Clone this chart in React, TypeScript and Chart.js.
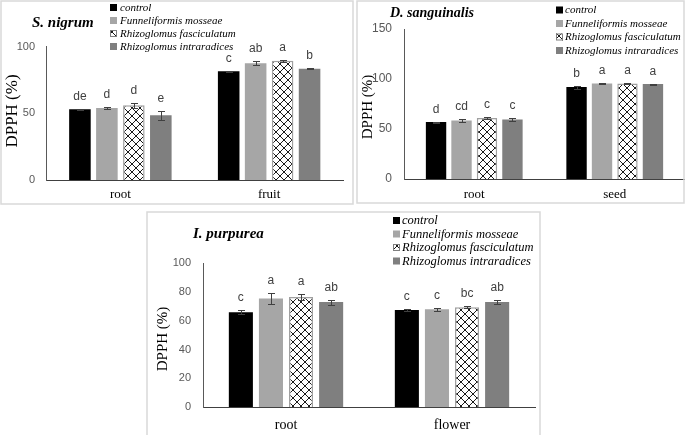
import React, { useEffect, useRef } from 'react';
import { Chart, registerables } from 'chart.js';

Chart.register(...registerables);

// ---------- data ----------
const SERIES = ['control', 'Funneliformis mosseae', 'Rhizoglomus fasciculatum', 'Rhizoglomus intraradices'];

// S. nigrum
const SN_CATEGORIES = ['root', 'fruit'];
const SN_CONTROL = [53, 81.5];
const SN_FUNNELIFORMIS = [54, 87.5];
const SN_FASCICULATUM = [56, 89.5];
const SN_INTRARADICES = [48.5, 83.5];
const SN_ERRORS = [[0.5, 0.5], [0.5, 1.5], [2, 0.7], [3.5, 0.5]];
const SN_LETTERS = [['de', 'c'], ['d', 'ab'], ['d', 'a'], ['e', 'b']];
const SN_Y_TICKS = [0, 50, 100];

// D. sanguinalis
const DS_CATEGORIES = ['root', 'seed'];
const DS_CONTROL = [57, 92];
const DS_FUNNELIFORMIS = [58.5, 95.5];
const DS_FASCICULATUM = [61, 95.5];
const DS_INTRARADICES = [59.5, 95];
const DS_ERRORS = [[0.5, 1.5], [1.5, 0.5], [0.7, 0.5], [1.2, 0.5]];
const DS_LETTERS = [['d', 'b'], ['cd', 'a'], ['c', 'a'], ['c', 'a']];
const DS_Y_TICKS = [0, 50, 100, 150];

// I. purpurea
const IP_CATEGORIES = ['root', 'flower'];
const IP_CONTROL = [66, 67.5];
const IP_FUNNELIFORMIS = [75.5, 68];
const IP_FASCICULATUM = [76.5, 69.5];
const IP_INTRARADICES = [73, 73];
const IP_ERRORS = [[1.2, 0.7], [3.5, 1.0], [1.8, 0.7], [1.8, 1.2]];
const IP_LETTERS = [['c', 'c'], ['a', 'c'], ['a', 'bc'], ['ab', 'ab']];
const IP_Y_TICKS = [0, 20, 40, 60, 80, 100];

// ---------- layout / style ----------
const PANELS = [
  {
    key: 'sn', title: 'S. nigrum', categories: SN_CATEGORIES,
    values: [SN_CONTROL, SN_FUNNELIFORMIS, SN_FASCICULATUM, SN_INTRARADICES],
    errors: SN_ERRORS, letters: SN_LETTERS, yTicks: SN_Y_TICKS,
    box: { left: 0, top: 0, width: 355, height: 207 },
    area: { left: 46, top: 46.7, right: 343.5, bottom: 180 },
    border: { x1: 1, y1: 1, x2: 353, y2: 204 },
    titlePos: { x: 32, y: 23, size: 15 },
    yTitle: { x: 13, y: 111, size: 17 },
    legend: { x: 110, tx: 120, y: 7.5, dy: 13, size: 11 },
    yFont: 11, yPad: 11, xFont: 13, xPad: 7,
  },
  {
    key: 'ds', title: 'D. sanguinalis', categories: DS_CATEGORIES,
    values: [DS_CONTROL, DS_FUNNELIFORMIS, DS_FASCICULATUM, DS_INTRARADICES],
    errors: DS_ERRORS, letters: DS_LETTERS, yTicks: DS_Y_TICKS,
    box: { left: 355, top: 0, width: 330, height: 207 },
    area: { left: 404, top: 29, right: 685, bottom: 179 },
    border: { x1: 357, y1: 1, x2: 684, y2: 203 },
    titlePos: { x: 390, y: 13, size: 14 },
    yTitle: { x: 368, y: 107, size: 15 },
    legend: { x: 556, tx: 565, y: 10, dy: 13.5, size: 11 },
    yFont: 12, yPad: 12, xFont: 13, xPad: 8,
  },
  {
    key: 'ip', title: 'I. purpurea', categories: IP_CATEGORIES,
    values: [IP_CONTROL, IP_FUNNELIFORMIS, IP_FASCICULATUM, IP_INTRARADICES],
    errors: IP_ERRORS, letters: IP_LETTERS, yTicks: IP_Y_TICKS,
    box: { left: 145, top: 210, width: 400, height: 225 },
    area: { left: 203, top: 263.3, right: 535, bottom: 407 },
    border: { x1: 147, y1: 212, x2: 540, y2: 445 },
    titlePos: { x: 193, y: 234, size: 15 },
    yTitle: { x: 163, y: 339, size: 15 },
    legend: { x: 393, tx: 402, y: 220.5, dy: 13.5, size: 12.5 },
    yFont: 11, yPad: 12, xFont: 14, xPad: 9.5,
  },
];

const SERIF = '"Liberation Serif", "Times New Roman", serif';
const SANS = '"Liberation Sans", Arial, sans-serif';

function makePattern(ctx: CanvasRenderingContext2D): CanvasPattern | string {
  const c = document.createElement('canvas');
  c.width = 8; c.height = 8;
  const g = c.getContext('2d');
  if (!g) return '#ffffff';
  g.fillStyle = '#ffffff';
  g.fillRect(0, 0, 8, 8);
  g.strokeStyle = '#1a1a1a';
  g.lineWidth = 1;
  g.beginPath();
  g.moveTo(-1, -1); g.lineTo(9, 9);
  g.moveTo(9, -1); g.lineTo(-1, 9);
  g.stroke();
  return ctx.createPattern(c, 'repeat') || '#ffffff';
}

const decorPlugin = {
  id: 'decor',
  afterDatasetsDraw(chart: any) {
    const spec = chart.options.plugins.decor;
    if (!spec) return;
    const ctx = chart.ctx as CanvasRenderingContext2D;
    const y = chart.scales.y;
    ctx.save();
    chart.data.datasets.forEach((ds: any, di: number) => {
      const meta = chart.getDatasetMeta(di);
      meta.data.forEach((bar: any, ci: number) => {
        const v = ds.data[ci];
        const e = spec.errors[di][ci];
        const yT = Math.round(y.getPixelForValue(v + e)) + 0.5;
        const yB = Math.round(y.getPixelForValue(v - e)) + 0.5;
        const x = Math.round(bar.x) + 0.5;
        ctx.strokeStyle = '#404040';
        ctx.lineWidth = 1;
        ctx.beginPath();
        ctx.moveTo(x, yT); ctx.lineTo(x, yB);
        ctx.moveTo(x - 3.5, yT); ctx.lineTo(x + 3.5, yT);
        ctx.moveTo(x - 3.5, yB); ctx.lineTo(x + 3.5, yB);
        ctx.stroke();
        ctx.fillStyle = '#404040';
        ctx.font = `12px ${SANS}`;
        ctx.textAlign = 'center';
        ctx.textBaseline = 'middle';
        ctx.fillText(spec.letters[di][ci], bar.x, yT - 13);
      });
    });
    ctx.restore();
  },
  afterDraw(chart: any) {
    const spec = chart.options.plugins.decor;
    if (!spec) return;
    const ctx = chart.ctx as CanvasRenderingContext2D;
    const ox = spec.box.left;
    const oy = spec.box.top;
    ctx.save();
    // panel frame
    ctx.strokeStyle = '#d9d9d9';
    ctx.lineWidth = 1.5;
    const b = spec.border;
    ctx.strokeRect(b.x1 - ox, b.y1 - oy, b.x2 - b.x1, b.y2 - b.y1);
    // title
    ctx.fillStyle = '#000';
    ctx.font = `italic bold ${spec.titlePos.size}px ${SERIF}`;
    ctx.textAlign = 'left';
    ctx.textBaseline = 'middle';
    ctx.fillText(spec.title, spec.titlePos.x - ox, spec.titlePos.y - oy);
    // y title
    ctx.save();
    ctx.translate(spec.yTitle.x - ox, spec.yTitle.y - oy);
    ctx.rotate(-Math.PI / 2);
    ctx.font = `${spec.yTitle.size}px ${SERIF}`;
    ctx.textAlign = 'center';
    ctx.textBaseline = 'middle';
    ctx.fillText('DPPH (%)', 0, 0);
    ctx.restore();
    // legend
    const lg = spec.legend;
    const pattern = chart.data.datasets[2].backgroundColor;
    SERIES.forEach((name, i) => {
      const cy = lg.y + i * lg.dy - oy;
      const mx = lg.x - ox;
      if (i === 2) {
        ctx.fillStyle = pattern;
        ctx.fillRect(mx, cy - 3.5, 7, 7);
        ctx.strokeStyle = '#7f7f7f';
        ctx.lineWidth = 1;
        ctx.strokeRect(mx + 0.5, cy - 3, 6, 6);
      } else {
        ctx.fillStyle = chart.data.datasets[i].backgroundColor;
        ctx.fillRect(mx, cy - 3.5, 7, 7);
      }
      ctx.fillStyle = '#000';
      ctx.font = `italic ${lg.size}px ${SERIF}`;
      ctx.textAlign = 'left';
      ctx.textBaseline = 'middle';
      ctx.fillText(name, lg.tx - ox, cy + 0.5);
    });
    ctx.restore();
  },
};

function Panel({ spec }: { spec: any }) {
  const ref = useRef<HTMLCanvasElement>(null);
  useEffect(() => {
    const canvas = ref.current;
    if (!canvas) return;
    const ctx = canvas.getContext('2d') as CanvasRenderingContext2D;
    const pattern = makePattern(ctx);
    const fills: any[] = ['#000000', '#a6a6a6', pattern, '#7f7f7f'];
    const { box, area } = spec;
    const yMax = spec.yTicks[spec.yTicks.length - 1];
    const yStep = spec.yTicks[1] - spec.yTicks[0];
    const chart = new Chart(canvas, {
      type: 'bar',
      data: {
        labels: spec.categories,
        datasets: spec.values.map((v: number[], i: number) => ({
          label: SERIES[i],
          data: v,
          backgroundColor: fills[i],
          borderColor: i === 2 ? '#a0a0a0' : 'rgba(0,0,0,0)',
          borderWidth: i === 2 ? 1.5 : 0,
          categoryPercentage: 0.725,
          barPercentage: 0.8,
        })),
      },
      options: {
        responsive: false,
        animation: false,
        devicePixelRatio: 1,
        layout: {
          padding: {
            top: area.top - box.top,
            right: box.left + box.width - area.right,
            left: 0,
            bottom: 0,
          },
        },
        plugins: {
          legend: { display: false },
          tooltip: { enabled: false },
          title: { display: false },
          decor: spec,
        } as any,
        scales: {
          x: {
            grid: { display: false, drawTicks: false, tickLength: 0 },
            border: { display: true, color: '#404040', width: 1 },
            ticks: { font: { family: SERIF, size: spec.xFont }, color: '#000', padding: spec.xPad },
            afterFit: (s: any) => { s.height = box.top + box.height - area.bottom; },
          },
          y: {
            min: 0,
            max: yMax,
            grid: { display: false, drawTicks: false, tickLength: 0 },
            border: { display: true, color: '#595959', width: 1 },
            ticks: { stepSize: yStep, font: { family: SANS, size: spec.yFont }, color: '#595959', padding: spec.yPad },
            afterFit: (s: any) => { s.width = area.left - box.left; },
          },
        },
      } as any,
      plugins: [decorPlugin as any],
    });
    return () => chart.destroy();
  }, [spec]);
  return (
    <canvas
      ref={ref}
      width={spec.box.width}
      height={spec.box.height}
      style={{ position: 'absolute', left: spec.box.left, top: spec.box.top, width: spec.box.width, height: spec.box.height }}
    />
  );
}

export default function App() {
  return (
    <div style={{ position: 'absolute', left: 0, top: 0, width: 685, height: 435, background: '#fff', overflow: 'hidden' }}>
      {PANELS.map((p) => <Panel key={p.key} spec={p} />)}
    </div>
  );
}
